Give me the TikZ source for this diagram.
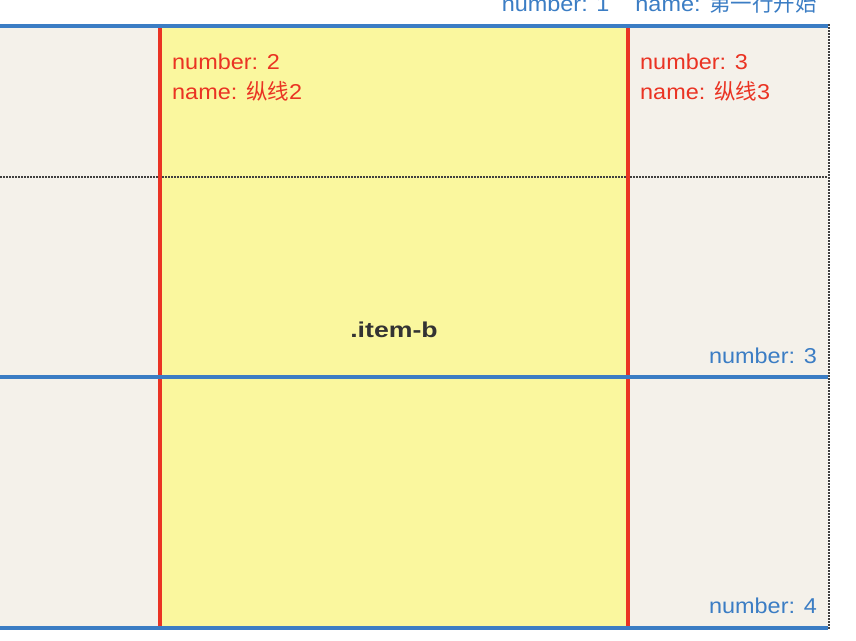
\documentclass[tikz,border=0pt]{standalone}
\usepackage{fontspec}
\usepackage{xcolor}
\usepackage{tikz}
\setmainfont{Liberation Sans}
\newfontfamily\labelfont[FakeStretch=1.09]{Liberation Sans}
\newfontfamily\itemfont[FakeStretch=1.24]{Liberation Sans}
\newfontfamily\cjk{Noto Sans CJK SC}
\definecolor{paper}{RGB}{244,241,234}
\definecolor{areayellow}{RGB}{250,247,158}
\definecolor{linered}{RGB}{234,51,35}
\definecolor{lineblue}{RGB}{59,125,196}
\definecolor{itemgray}{RGB}{51,51,51}

\begin{document}
\begin{tikzpicture}[x=1pt,y=-1pt,
	redlabel/.style={text=linered,font=\labelfont\fontsize{21.5}{30}\selectfont},
	bluelabel/.style={text=lineblue,font=\labelfont\fontsize{21.5}{30}\selectfont},
	rowline/.style={lineblue,line width=4pt},
	colline/.style={linered,line width=4pt},
	dotline/.style={black!75,line width=1.5pt,dash pattern=on 1.5pt off 1.5pt}]
	\tikzstyle{every node}+=[inner sep=0pt]
	\useasboundingbox (0,0) rectangle (856,640);
	\clip (0,0) rectangle (856,640);
	% background of the grid
	\fill [paper] (0,28) rectangle (828,626);
	\fill [areayellow] (160,28) rectangle (628,626);
	% dotted borders
	\draw [dotline] (0,177) -- (828,177);
	\draw [dotline] (829,24) -- (829,630);
	% column lines
	\draw [colline] (160,28) -- (160,626);
	\draw [colline] (628,28) -- (628,626);
	% row lines
	\draw [rowline] (0,26) -- (828,26);
	\draw [rowline] (0,377) -- (828,377);
	\draw [rowline] (0,628) -- (828,628);
	% labels
	\node [bluelabel,anchor=base east] (row1) at (817,11) {number: 1\hspace{26pt}name: {\cjk 第一行开始}};
	\node [redlabel,anchor=base west] (col2num) at (172,69) {number: 2};
	\node [redlabel,anchor=base west] (col2name) at (172,99) {name: {\cjk 纵线}2};
	\node [redlabel,anchor=base west] (col3num) at (640,69) {number: 3};
	\node [redlabel,anchor=base west] (col3name) at (640,99) {name: {\cjk 纵线}3};
	\node [bluelabel,anchor=base east] (row3) at (817,363) {number: 3};
	\node [bluelabel,anchor=base east] (row4) at (817,613) {number: 4};
	\node [text=itemgray,font=\itemfont\bfseries\fontsize{21.5}{26}\selectfont,anchor=base] (itemb) at (394,337) {.item-b};
\end{tikzpicture}
\end{document}
